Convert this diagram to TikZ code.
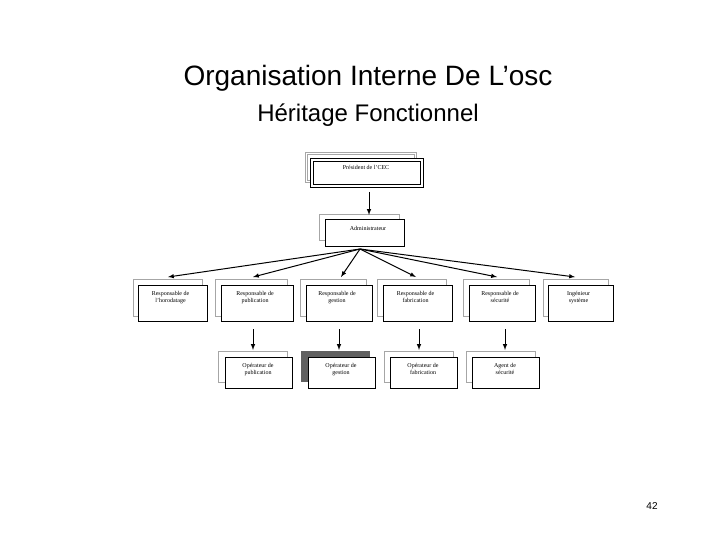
\documentclass[tikz,border=0pt]{standalone}
\usepackage{fontspec}
\setmainfont{Liberation Serif}
\newfontfamily\titlefont{Liberation Sans}
\begin{document}
\begin{tikzpicture}[x=1pt,y=-1pt,
  shadowbox/.style={draw=gray!70,line width=0.8pt},
  mainbox/.style={draw=black,line width=0.9pt,fill=white},
  lbl/.style={font=\fontsize{6}{7}\selectfont,align=center,anchor=north,inner sep=0pt},
  arr/.style={-latex,line width=1pt}]
\useasboundingbox (0,0) rectangle (720,540);
\node[font=\titlefont\fontsize{28}{32}\selectfont] (title) at (368,78) {Organisation Interne De L’osc};
\node[font=\titlefont\fontsize{24}{28}\selectfont] (sub) at (368,115) {Héritage Fonctionnel};
\node[font=\titlefont\fontsize{10}{12}\selectfont] (page) at (652,506) {42};
% president
\draw[shadowbox] (305,152) rectangle (416,182);
\draw[shadowbox] (307,154) rectangle (414,180);
\draw[mainbox] (310,158) rectangle (423,187);
\draw[black,line width=0.6pt] (313,161) rectangle (420,184);
\node[lbl] (pres) at (366,165) {Président de l’CEC};
\coordinate (presb) at (369,192);
% administrateur
\draw[shadowbox] (319,214) rectangle (399,240);
\draw[mainbox] (325,219) rectangle (404,246);
\node[lbl] (adm) at (368,226) {Administrateur};
\coordinate (admt) at (369,215);
\coordinate (o) at (360,249);
\draw[arr] (presb) -- (admt);
% row 1
\foreach \gx/\gw/\bx/\tx/\n/\t in {
 133/69/138/168/r1/{Responsable de\\l’horodatage},
 215/72/221/253/r2/{Responsable de\\publication},
 300/66/306/341/r3/{Responsable de\\gestion},
 377/69/383/416/r4/{Responsable de\\fabrication},
 463/66/469/497/r5/{Responsable de\\sécurité},
 543/65/548/575/r6/{Ingénieur\\système}}{
  \draw[shadowbox] (\gx,279) rectangle ++(\gw,37);
  \draw[mainbox] (\bx,285) rectangle ++(\gw,36);
  \node[lbl] (\n) at (\bx+\gw/2-2,291) {\t};
  \coordinate (\n t) at (\tx,277);
  \draw[arr] (o) -- (\n t);
}
% row 2
\fill[gray!75!black] (301,351) rectangle (370,382);
\foreach \gx/\bx/\tx/\n/\t/\sh in {
 218/225/253/o1/{Opérateur de\\publication}/1,
 301/308/339/o2/{Opérateur de\\gestion}/0,
 384/390/419/o3/{Opérateur de\\fabrication}/1,
 466/472/505/o4/{Agent de\\sécurité}/1}{
  \ifnum\sh=1 \draw[shadowbox] (\gx,351) rectangle ++(69,31); \fi
  \draw[mainbox] (\bx,357) rectangle ++(67,31);
  \node[lbl] (\n) at (\bx+33,363) {\t};
  \coordinate (\n s) at (\tx,329);
  \coordinate (\n e) at (\tx,350);
  \draw[arr] (\n s) -- (\n e);
}
\end{tikzpicture}
\end{document}
